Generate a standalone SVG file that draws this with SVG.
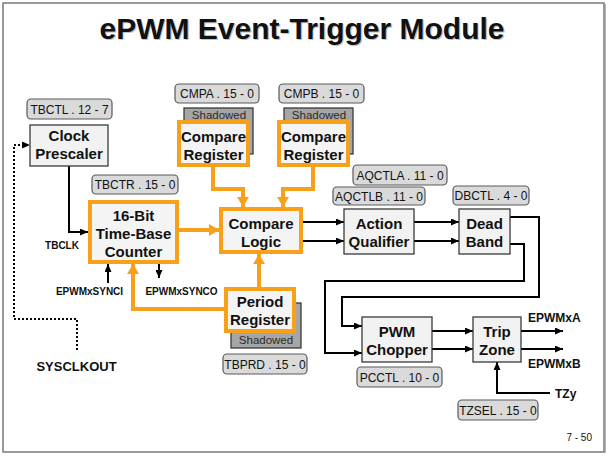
<svg xmlns="http://www.w3.org/2000/svg" width="612" height="457" viewBox="0 0 612 457">
<defs>
<style>
text{font-family:"Liberation Sans",Arial,sans-serif;fill:#111}
.title{font-size:30px;font-weight:bold;text-anchor:middle}
.tshadow{font-size:30px;font-weight:bold;text-anchor:middle;fill:#c4c4c4}
.nt{font-size:15px;font-weight:bold;text-anchor:middle}
.lt{font-size:12px;text-anchor:middle}
.st{font-size:11.5px;text-anchor:middle;fill:#2a2a2a}
.sm{font-size:10px;font-weight:bold;text-anchor:middle}
.bx{fill:#f2f2f2;stroke:#3a3a3a;stroke-width:1.3}
.ob{fill:#f4f4f4;stroke:#f7a11b;stroke-width:4}
.lb{fill:#dadada;stroke:#5a5a5a;stroke-width:1.2}
.sh{fill:#a6a6a6;stroke:#3a3a3a;stroke-width:1.3}
.bl{fill:none;stroke:#000;stroke-width:2;marker-end:url(#ab)}
.or{fill:none;stroke:#f7a11b;stroke-width:4;marker-end:url(#ao)}
.dt{fill:none;stroke:#000;stroke-width:2;stroke-dasharray:2 2;marker-end:url(#ab)}
</style>
<marker id="ab" markerUnits="userSpaceOnUse" markerWidth="8" markerHeight="7" refX="8" refY="3.5" orient="auto"><path d="M0,0 L8,3.5 L0,7 z" fill="#000"/></marker>
<marker id="ao" markerUnits="userSpaceOnUse" markerWidth="10" markerHeight="12" refX="10" refY="6" orient="auto"><path d="M0,0 L10,6 L0,12 z" fill="#f7a11b"/></marker>
</defs>
<rect x="0" y="0" width="612" height="457" fill="#fff"/>
<rect x="3" y="3" width="601" height="449" fill="none" stroke="#7a7a7a" stroke-width="1.5"/>
<line x1="605" y1="4" x2="605" y2="453" stroke="#999" stroke-width="1.5"/>
<text class="tshadow" x="303.2" y="40.2">ePWM Event-Trigger Module</text>
<text class="title" x="302" y="39">ePWM Event-Trigger Module</text>

<g id="connectors">
<path class="bl" d="M69,166 V232 H88"/>
<path class="dt" d="M77,350 V319 H14 V145 H30"/>
<path class="bl" d="M108,283 V264"/>
<path class="bl" d="M159,264 V278"/>
<path class="bl" d="M303,222 H344"/>
<path class="bl" d="M303,241 H344"/>
<path class="bl" d="M414,222 H459"/>
<path class="bl" d="M414,241 H459"/>
<path class="bl" d="M510,217 H539 V297 H342 V326 H362"/>
<path class="bl" d="M510,244 H524 V281 H325 V353 H362"/>
<path class="bl" d="M432,331 H473"/>
<path class="bl" d="M432,349 H473"/>
<path class="bl" d="M521,331 H563"/>
<path class="bl" d="M521,349 H563"/>
<path class="bl" d="M550,393 H497 V362"/>
<path class="or" d="M179,230 H219"/>
<path class="or" d="M213,167 V189 H243 V207"/>
<path class="or" d="M313,167 V189 H283 V207"/>
<path class="or" d="M259,287 V254"/>
<path class="or" d="M224,309 H133 V264"/>
</g>

<g id="tbctl"><rect class="lb" x="27" y="99" width="85" height="20" rx="4"/><text class="lt" x="69.5" y="113.5">TBCTL . 12 - 7</text></g>
<g id="clock-prescaler"><rect class="bx" x="30" y="125" width="78" height="41"/><text class="nt" x="69" y="140.5">Clock</text><text class="nt" x="69" y="158.5">Prescaler</text></g>
<g id="tbctr"><rect class="lb" x="92" y="175" width="86" height="19" rx="4"/><text class="lt" x="135" y="189">TBCTR . 15 - 0</text></g>
<g id="counter"><rect class="ob" x="90" y="202" width="87" height="60"/><text class="nt" x="133.5" y="220.5">16-Bit</text><text class="nt" x="133.5" y="238.5">Time-Base</text><text class="nt" x="133.5" y="256.5">Counter</text></g>
<g id="cmpa"><rect class="lb" x="175" y="84" width="84" height="19" rx="4"/><text class="lt" x="217" y="98">CMPA . 15 - 0</text></g>
<g id="cmpb"><rect class="lb" x="279" y="84" width="85" height="19" rx="4"/><text class="lt" x="321.5" y="98">CMPB . 15 - 0</text></g>
<g id="compare-register-a"><rect class="sh" x="184" y="108" width="69" height="46"/><text class="st" x="219" y="119">Shadowed</text><rect class="ob" x="179" y="122" width="69" height="43"/><text class="nt" x="213.5" y="141.5">Compare</text><text class="nt" x="213.5" y="159.5">Register</text></g>
<g id="compare-register-b"><rect class="sh" x="284" y="108" width="69" height="46"/><text class="st" x="319" y="119">Shadowed</text><rect class="ob" x="279" y="122" width="69" height="43"/><text class="nt" x="313.5" y="141.5">Compare</text><text class="nt" x="313.5" y="159.5">Register</text></g>
<g id="compare-logic"><rect class="ob" x="221" y="209" width="80" height="43"/><text class="nt" x="261" y="228.5">Compare</text><text class="nt" x="261" y="246.5">Logic</text></g>
<g id="period-register"><rect class="sh" x="231" y="303" width="70" height="45"/><text class="st" x="266" y="343.5">Shadowed</text><rect class="ob" x="226" y="289" width="68" height="42"/><text class="nt" x="260" y="306.5">Period</text><text class="nt" x="260" y="324.5">Register</text></g>
<g id="tbprd"><rect class="lb" x="223" y="354" width="84" height="20" rx="4"/><text class="lt" x="265" y="368.5">TBPRD . 15 - 0</text></g>
<g id="aqctla"><rect class="lb" x="353" y="165" width="94" height="20" rx="4"/><text class="lt" x="400" y="179.5">AQCTLA . 11 - 0</text></g>
<g id="aqctlb"><rect class="lb" x="333" y="187" width="92" height="18" rx="4"/><text class="lt" x="379" y="200.5">AQCTLB . 11 - 0</text></g>
<g id="dbctl"><rect class="lb" x="453" y="186" width="76" height="19" rx="4"/><text class="lt" x="491" y="200">DBCTL . 4 - 0</text></g>
<g id="action-qualifier"><rect class="bx" x="344" y="209" width="70" height="45"/><text class="nt" x="379" y="228.5">Action</text><text class="nt" x="379" y="246.5">Qualifier</text></g>
<g id="dead-band"><rect class="bx" x="459" y="209" width="51" height="45"/><text class="nt" x="484.5" y="228.5">Dead</text><text class="nt" x="484.5" y="246.5">Band</text></g>
<g id="pwm-chopper"><rect class="bx" x="362" y="317" width="70" height="45"/><text class="nt" x="397" y="336.5">PWM</text><text class="nt" x="397" y="354.5">Chopper</text></g>
<g id="pcctl"><rect class="lb" x="357" y="367" width="85" height="20" rx="4"/><text class="lt" x="399.5" y="381.5">PCCTL . 10 - 0</text></g>
<g id="trip-zone"><rect class="bx" x="473" y="317" width="48" height="45"/><text class="nt" x="497" y="336.5">Trip</text><text class="nt" x="497" y="354.5">Zone</text></g>
<g id="tzsel"><rect class="lb" x="458" y="400" width="80" height="20" rx="4"/><text class="lt" x="498" y="414.5">TZSEL . 15 - 0</text></g>

<g id="signals">
<text class="sm" x="62" y="248.5">TBCLK</text>
<text class="sm" x="89.5" y="294.5">EPWMxSYNCI</text>
<text class="sm" x="181.5" y="294.5">EPWMxSYNCO</text>
<text x="76.5" y="371" style="font-size:13px;font-weight:bold;text-anchor:middle">SYSCLKOUT</text>
<text x="528" y="321.5" style="font-size:12px;font-weight:bold">EPWMxA</text>
<text x="528" y="367.5" style="font-size:12px;font-weight:bold">EPWMxB</text>
<text x="555" y="397.5" style="font-size:12px;font-weight:bold">TZy</text>
<text x="592" y="441" style="font-size:10px;text-anchor:end">7 - 50</text>
</g>
</svg>
